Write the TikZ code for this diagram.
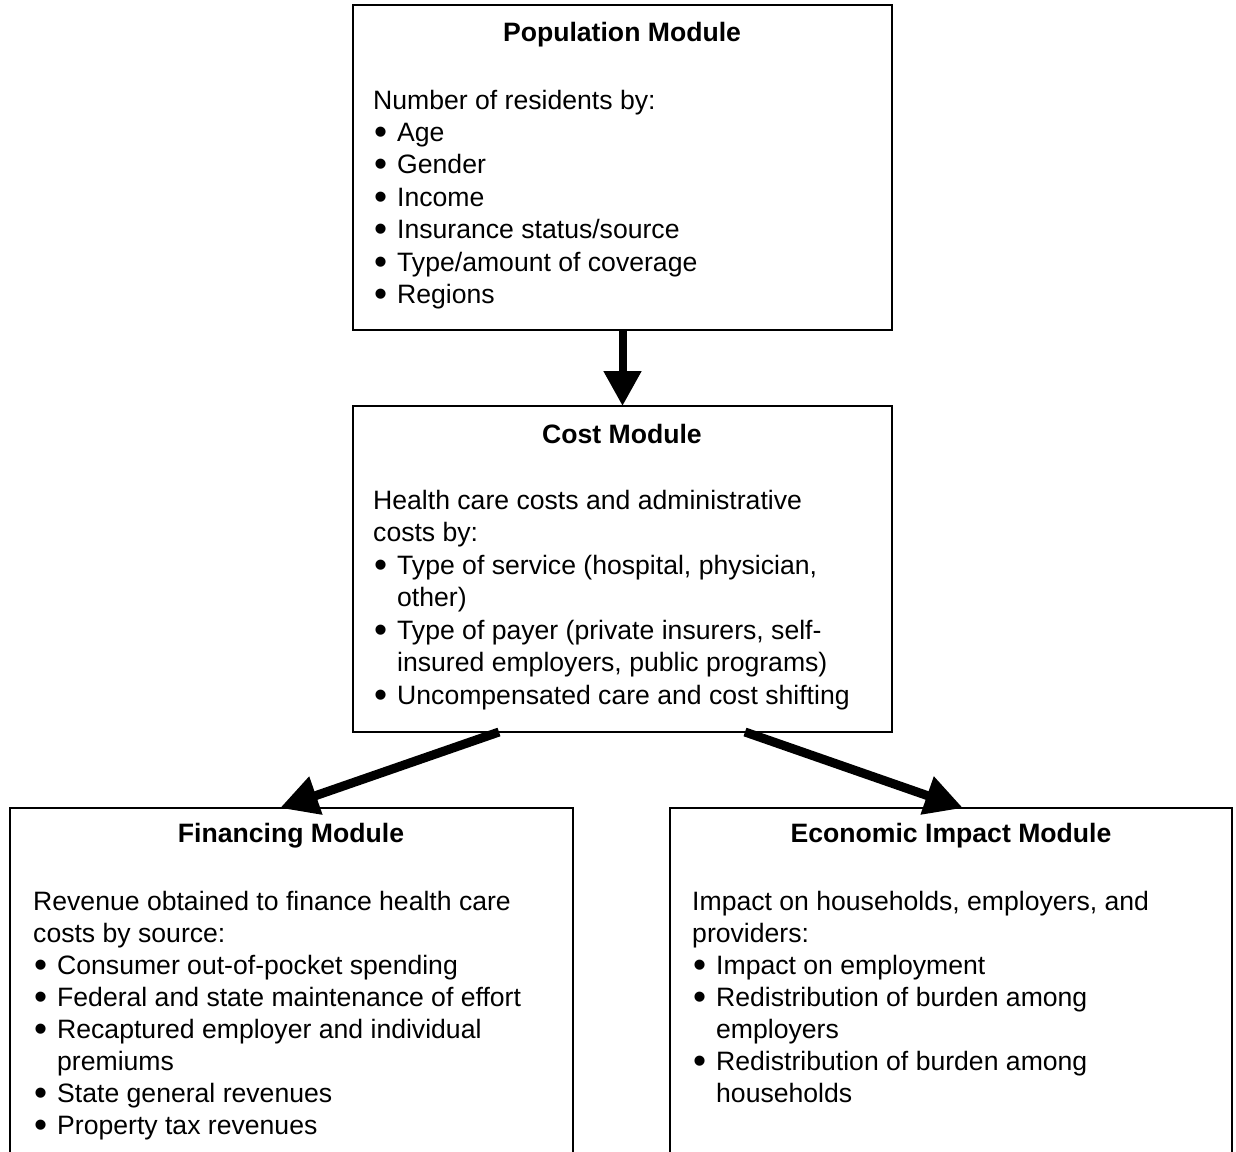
\documentclass[tikz,border=0pt]{standalone}
\usepackage{fontspec}
\setmainfont{Liberation Sans}
\usetikzlibrary{arrows.meta}
\newcommand{\bulx}{\makebox[24pt][l]{\hspace{1pt}\smash{\raisebox{-3.2pt}{\scalebox{1.4}{\textbullet}}}}}
\begin{document}
\begin{tikzpicture}[x=1pt,y=-1pt,
  box/.style={draw=black,line width=1.5pt,rectangle,inner sep=0pt,outer sep=0pt},
  ttl/.style={inner sep=0pt,anchor=base,font=\fontsize{26.6}{30}\selectfont\bfseries},
  txt/.style={inner sep=0pt,anchor=base west,font=\fontsize{26.6}{30}\selectfont},
  bigarrow/.style={line width=9pt,-{Triangle[width=38pt,length=38pt]}}]
\useasboundingbox (0,0) rectangle (1236,1151);
\fill[white] (0,0) rectangle (1236,1151);
\begin{scope}
\clip (0,0) rectangle (1236,1151);
% boxes
\node[box,minimum width=539pt,minimum height=325pt] (pop) at (622.5,167.5) {};
\node[box,minimum width=539pt,minimum height=326pt] (cost) at (622.5,569) {};
\node[box,minimum width=563pt,minimum height=360pt] (fin) at (291.5,988) {};
\node[box,minimum width=562pt,minimum height=360pt] (econ) at (951,988) {};
\end{scope}
% Population
\node[ttl] (popt) at (622,41) {Population Module};
\node[txt] (p0) at (373,109) {Number of residents by:};
\node[txt] (p1) at (373,141) {\bulx Age};
\node[txt] (p2) at (373,173.5) {\bulx Gender};
\node[txt] (p3) at (373,206) {\bulx Income};
\node[txt] (p4) at (373,238.5) {\bulx Insurance status/source};
\node[txt] (p5) at (373,271) {\bulx Type/amount of coverage};
\node[txt] (p6) at (373,303.5) {\bulx Regions};
% Cost
\node[ttl] (costt) at (622,443) {Cost Module};
\node[txt] (c0) at (373,509) {Health care costs and administrative};
\node[txt] (c1) at (373,541.5) {costs by:};
\node[txt] (c2) at (373,574) {\bulx Type of service (hospital, physician,};
\node[txt] (c3) at (373,606.5) {\hspace*{24pt}other)};
\node[txt] (c4) at (373,639) {\bulx Type of payer (private insurers, self-};
\node[txt] (c5) at (373,671.5) {\hspace*{24pt}insured employers, public programs)};
\node[txt] (c6) at (373,704) {\bulx Uncompensated care and cost shifting};
% Financing
\node[ttl] (fint) at (291,842) {Financing Module};
\node[txt] (f0) at (33,910) {Revenue obtained to finance health care};
\node[txt] (f1) at (33,942) {costs by source:};
\node[txt] (f2) at (33,974) {\bulx Consumer out-of-pocket spending};
\node[txt] (f3) at (33,1006) {\bulx Federal and state maintenance of effort};
\node[txt] (f4) at (33,1038) {\bulx Recaptured employer and individual};
\node[txt] (f5) at (33,1070) {\hspace*{24pt}premiums};
\node[txt] (f6) at (33,1102) {\bulx State general revenues};
\node[txt] (f7) at (33,1134) {\bulx Property tax revenues};
% Economic
\node[ttl] (econt) at (951,842) {Economic Impact Module};
\node[txt] (e0) at (692,910) {Impact on households, employers, and};
\node[txt] (e1) at (692,942) {providers:};
\node[txt] (e2) at (692,974) {\bulx Impact on employment};
\node[txt] (e3) at (692,1006) {\bulx Redistribution of burden among};
\node[txt] (e4) at (692,1038) {\hspace*{24pt}employers};
\node[txt] (e5) at (692,1070) {\bulx Redistribution of burden among};
\node[txt] (e6) at (692,1102) {\hspace*{24pt}households};
% arrows
\draw[line width=8pt,-{Triangle[width=36pt,length=35pt]}] (pop.south) -- (cost.north);
\draw[bigarrow] ([xshift=-123.5pt]cost.south) -- ([xshift=-11.5pt]fin.north);
\draw[bigarrow] ([xshift=122.5pt]cost.south) -- ([xshift=12pt]econ.north);
\end{tikzpicture}
\end{document}
